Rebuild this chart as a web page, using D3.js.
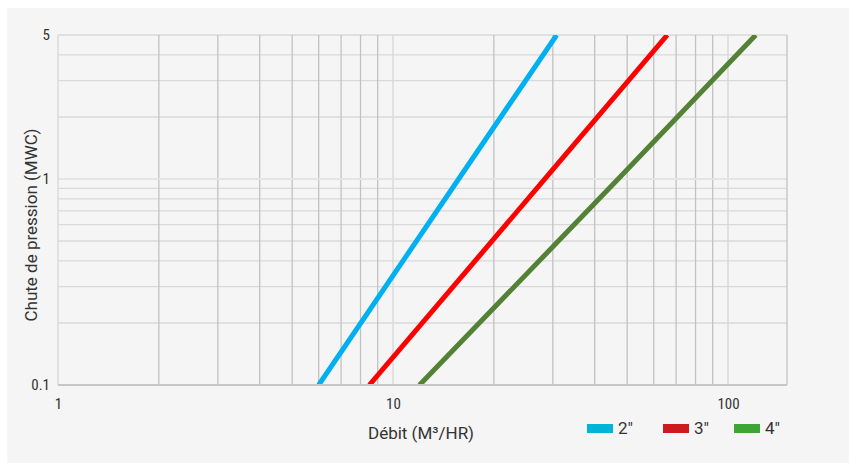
<!DOCTYPE html>
<html>
<head>
<meta charset="utf-8">
<script src="https://cdn.jsdelivr.net/npm/d3@7/dist/d3.min.js"></script>
<style>
  html, body { margin: 0; padding: 0; background: #ffffff; }
  svg { display: block; }
  .tick-label { font-family: "Liberation Sans Narrow", "Roboto Condensed", Roboto, sans-serif; font-size: 15px; fill: #333333; }
  .title { font-family: Roboto, "Liberation Sans", sans-serif; font-size: 17px; fill: #333333; }
</style>
</head>
<body>
<script>
// Pressure drop (MWC) at which each flow value is read
const pressureDrops = [0.1, 1, 5];
// Flow rate (m³/h) for each pipe size at those pressure drops
const flow2in = [6.0, 15.7, 30.8];
const flow3in = [8.5, 28.4, 65.9];
const flow4in = [12.0, 47.0, 121];

const sizeLabels = ["2″", "3″", "4″"];
const lineColors = ["#00b0f0", "#ff0000", "#538135"];
const legendColors = ["#00b4d8", "#cc1a1f", "#3ea535"];

const xTickValues = [1, 10, 100];
const yTickValues = [0.1, 1, 5];
const xGridMinor = [2, 3, 4, 5, 6, 7, 8, 9, 20, 30, 40, 50, 60, 70, 80, 90];
const xGridMajor = [10, 100];
const yGridMinor = [0.2, 0.3, 0.4, 0.5, 0.6, 0.7, 0.8, 0.9, 2, 3, 4, 5];
const yGridMajor = [1];

const W = 849, H = 463;
const svg = d3.select("body").append("svg").attr("width", W).attr("height", H);

// panel background
svg.append("rect").attr("x", 7).attr("y", 8).attr("width", 842).attr("height", 455).attr("fill", "#f5f5f5");

const x = d3.scaleLog().domain([1, 150]).range([58, 787]);
const y = d3.scaleLog().domain([0.1, 5]).range([385, 35]);

const grid = svg.append("g");
// horizontal minor gridlines
grid.selectAll("line.hmin").data(yGridMinor).join("line")
  .attr("x1", x(1)).attr("x2", x(150))
  .attr("y1", d => y(d)).attr("y2", d => y(d))
  .attr("stroke", "#d9d9d9").attr("stroke-width", 1.3);
// vertical minor gridlines
grid.selectAll("line.vmin").data(xGridMinor).join("line")
  .attr("x1", d => x(d)).attr("x2", d => x(d))
  .attr("y1", y(5)).attr("y2", y(0.1))
  .attr("stroke", "#c2c2c2").attr("stroke-width", 1.3);
// vertical decade gridlines
grid.selectAll("line.vmaj").data(xGridMajor).join("line")
  .attr("x1", d => x(d)).attr("x2", d => x(d))
  .attr("y1", y(5)).attr("y2", y(0.1))
  .attr("stroke", "#dadada").attr("stroke-width", 1.5);
// horizontal decade gridline
grid.selectAll("line.hmaj").data(yGridMajor).join("line")
  .attr("x1", x(1)).attr("x2", x(150))
  .attr("y1", d => y(d)).attr("y2", d => y(d))
  .attr("stroke", "#e4e4e4").attr("stroke-width", 2);
// frame
grid.append("line").attr("x1", x(1)).attr("x2", x(1)).attr("y1", y(5)).attr("y2", y(0.1))
  .attr("stroke", "#dadada").attr("stroke-width", 1.5);
grid.append("line").attr("x1", x(150)).attr("x2", x(150)).attr("y1", y(5)).attr("y2", y(0.1))
  .attr("stroke", "#c8c8c8").attr("stroke-width", 1.5);

// curves
const series = [flow2in, flow3in, flow4in];
const line = d3.line().x(d => x(d[0])).y(d => y(d[1]));
svg.append("defs").append("clipPath").attr("id", "plot")
  .append("rect").attr("x", x(1)).attr("y", y(5)).attr("width", x(150) - x(1)).attr("height", y(0.1) - y(5));
svg.append("g").attr("clip-path", "url(#plot)")
  .selectAll("path").data(series).join("path")
  .attr("d", s => line(s.map((f, i) => [f, pressureDrops[i]])))
  .attr("fill", "none")
  .attr("stroke", (s, i) => lineColors[i])
  .attr("stroke-width", 5);

// bottom axis line
svg.append("line").attr("x1", x(1)).attr("x2", x(150)).attr("y1", y(0.1)).attr("y2", y(0.1))
  .attr("stroke", "#c6c6c6").attr("stroke-width", 2);

// axes
const xAxis = svg.append("g").attr("transform", `translate(0,${y(0.1)})`)
  .call(d3.axisBottom(x).tickValues(xTickValues).tickFormat(d3.format("d")).tickSize(0).tickPadding(13));
xAxis.select(".domain").remove();
xAxis.selectAll("text").attr("class", "tick-label").attr("fill", null);

const yAxis = svg.append("g").attr("transform", `translate(${x(1)},0)`)
  .call(d3.axisLeft(y).tickValues(yTickValues).tickFormat(d => d < 1 ? d3.format(".1f")(d) : d3.format("d")(d)).tickSize(0).tickPadding(8));
yAxis.select(".domain").remove();
yAxis.selectAll("text").attr("class", "tick-label").attr("fill", null);

// axis titles
svg.append("text").attr("class", "title").attr("x", 421).attr("y", 439)
  .attr("text-anchor", "middle").text("Débit (M³/HR)");
svg.append("text").attr("class", "title")
  .attr("transform", "translate(37,225) rotate(-90)")
  .attr("text-anchor", "middle").text("Chute de pression (MWC)");

// legend
const legendX = [587, 663, 734];
const legend = svg.append("g").selectAll("g").data(sizeLabels).join("g")
  .attr("transform", (d, i) => `translate(${legendX[i]},424)`);
legend.append("rect").attr("width", 26).attr("height", 9).attr("fill", (d, i) => legendColors[i]);
legend.append("text").attr("class", "title").attr("x", 31).attr("y", 9.5).attr("font-size", "18px").text(d => d);
</script>
</body>
</html>
